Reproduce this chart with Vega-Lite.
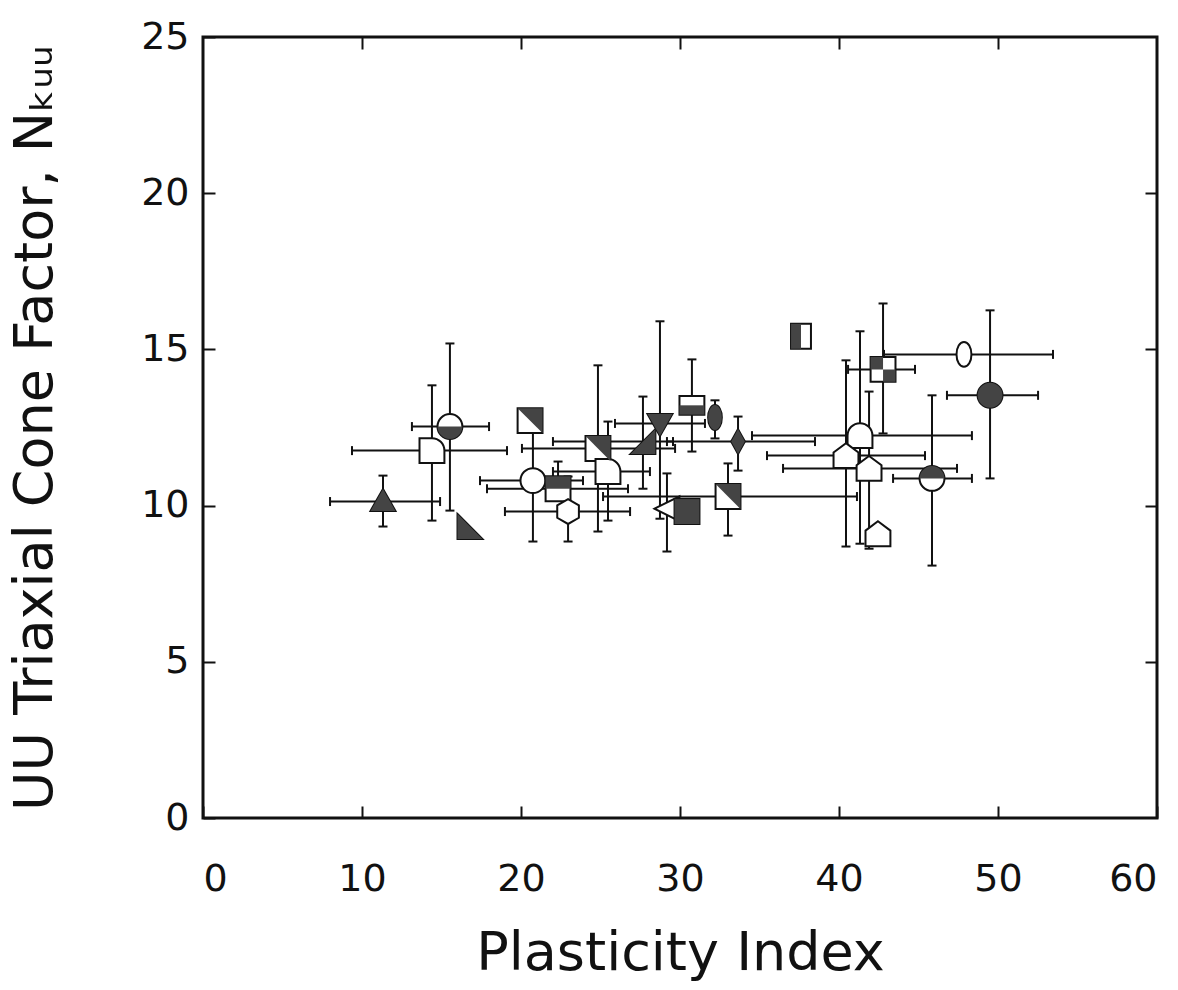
{
  "$schema": "https://vega.github.io/schema/vega-lite/v6.json",
  "width": 954,
  "height": 781,
  "autosize": {"type": "none"},
  "padding": {"left": 203, "top": 37, "right": 21, "bottom": 172},
  "background": "white",
  "config": {
    "view": {"stroke": "#111", "strokeWidth": 3},
    "axis": {
      "grid": false, "domain": false, "tickColor": "#111", "tickWidth": 2, "tickSize": 12, "offset": -12,
      "labelFont": "DejaVu Sans", "labelFontSize": 38, "labelColor": "#111",
      "titleFont": "DejaVu Sans", "titleFontSize": 54, "titleFontWeight": "normal", "titleColor": "#111"
    }
  },
  "data": {"values": [
    {"id": 1, "sym": "triUp", "x": 11.32, "y": 10.13, "xlo": 7.99, "xhi": 14.91, "ylo": 9.33, "yhi": 10.96},
    {"id": 2, "sym": "quarterD", "x": 14.40, "y": 11.76, "xlo": 9.37, "xhi": 19.12, "ylo": 9.52, "yhi": 13.85},
    {"id": 3, "sym": "circBot", "x": 15.53, "y": 12.53, "xlo": 13.14, "xhi": 17.99, "ylo": 9.84, "yhi": 15.19},
    {"id": 4, "sym": "rtriL", "x": 16.79, "y": 9.33, "xlo": null, "xhi": null, "ylo": null, "yhi": null},
    {"id": 5, "sym": "sqDiag", "x": 20.57, "y": 12.72, "xlo": null, "xhi": null, "ylo": null, "yhi": null},
    {"id": 6, "sym": "circ", "x": 20.75, "y": 10.80, "xlo": 17.42, "xhi": 23.90, "ylo": 8.85, "yhi": 12.37},
    {"id": 7, "sym": "sqTop", "x": 22.33, "y": 10.54, "xlo": 17.86, "xhi": 26.73, "ylo": 10.54, "yhi": 11.41},
    {"id": 8, "sym": "hex", "x": 22.96, "y": 9.81, "xlo": 18.99, "xhi": 26.86, "ylo": 8.85, "yhi": 10.93},
    {"id": 9, "sym": "sqDiag", "x": 24.84, "y": 11.83, "xlo": 20.06, "xhi": 29.69, "ylo": 9.17, "yhi": 14.49},
    {"id": 10, "sym": "quarterD", "x": 25.47, "y": 11.09, "xlo": 22.01, "xhi": 28.11, "ylo": 9.52, "yhi": 12.69},
    {"id": 11, "sym": "rtriR", "x": 27.67, "y": 12.05, "xlo": 22.01, "xhi": 29.56, "ylo": 10.54, "yhi": 13.49},
    {"id": 12, "sym": "triDown", "x": 28.74, "y": 12.63, "xlo": 25.91, "xhi": 31.57, "ylo": 9.58, "yhi": 15.90},
    {"id": 13, "sym": "rectBot", "x": 30.75, "y": 13.21, "xlo": null, "xhi": null, "ylo": 11.73, "yhi": 14.68},
    {"id": 14, "sym": "ellFill", "x": 32.20, "y": 12.82, "xlo": null, "xhi": null, "ylo": 12.15, "yhi": 13.37},
    {"id": 15, "sym": "diamond", "x": 33.65, "y": 12.05, "xlo": 29.18, "xhi": 38.49, "ylo": 11.12, "yhi": 12.85},
    {"id": 16, "sym": "triLeft", "x": 29.18, "y": 9.90, "xlo": null, "xhi": null, "ylo": 8.53, "yhi": 11.03},
    {"id": 17, "sym": "sqFill", "x": 30.44, "y": 9.81, "xlo": null, "xhi": null, "ylo": null, "yhi": null},
    {"id": 18, "sym": "sqDiag", "x": 33.02, "y": 10.29, "xlo": 25.16, "xhi": 41.13, "ylo": 9.04, "yhi": 11.35},
    {"id": 19, "sym": "sqHalfL", "x": 37.61, "y": 15.42, "xlo": null, "xhi": null, "ylo": null, "yhi": null},
    {"id": 20, "sym": "arch", "x": 41.32, "y": 12.24, "xlo": 34.53, "xhi": 48.36, "ylo": 8.78, "yhi": 15.58},
    {"id": 21, "sym": "checker", "x": 42.77, "y": 14.36, "xlo": 40.57, "xhi": 44.78, "ylo": 12.31, "yhi": 16.47},
    {"id": 22, "sym": "ellOpen", "x": 47.86, "y": 14.84, "xlo": 42.83, "xhi": 53.46, "ylo": null, "yhi": null},
    {"id": 23, "sym": "circFill", "x": 49.50, "y": 13.53, "xlo": 46.79, "xhi": 52.52, "ylo": 10.87, "yhi": 16.25},
    {"id": 24, "sym": "circTop", "x": 45.85, "y": 10.87, "xlo": 43.40, "xhi": 48.36, "ylo": 8.08, "yhi": 13.53},
    {"id": 25, "sym": "house", "x": 40.44, "y": 11.60, "xlo": 35.47, "xhi": 45.41, "ylo": 8.69, "yhi": 14.65},
    {"id": 26, "sym": "house", "x": 41.89, "y": 11.19, "xlo": 36.48, "xhi": 47.42, "ylo": 8.62, "yhi": 13.65},
    {"id": 27, "sym": "house", "x": 42.45, "y": 9.10, "xlo": null, "xhi": null, "ylo": null, "yhi": null}
  ]},
  "resolve": {"scale": {"shape": "independent"}, "axis": {"x": "independent", "y": "independent"}},
  "layer": [
    {
      "transform": [{"filter": "isValid(datum.xlo)"}],
      "mark": {"type": "rule", "strokeWidth": 2, "color": "#111"},
      "encoding": {
        "x": {"field": "xlo", "type": "quantitative", "scale": {"domain": [0, 60], "nice": false, "zero": false},
              "axis": {"orient": "bottom", "values": [0, 10, 20, 30, 40, 50, 60], "title": "Plasticity Index", "labelPadding": 42, "titlePadding": 28}},
        "x2": {"field": "xhi"},
        "y": {"field": "y", "type": "quantitative", "scale": {"domain": [0, 25], "nice": false, "zero": false},
              "axis": {"orient": "left", "values": [0, 5, 10, 15, 20, 25], "title": "UU Triaxial Cone Factor, Nₖᵤᵤ", "labelPadding": 14, "titlePadding": 78}}
      }
    },
    {
      "transform": [{"filter": "isValid(datum.ylo)"}],
      "mark": {"type": "rule", "strokeWidth": 2, "color": "#111"},
      "encoding": {
        "x": {"field": "x", "type": "quantitative", "axis": {"orient": "top", "values": [10, 20, 30, 40, 50], "labels": false, "title": null}},
        "y": {"field": "ylo", "type": "quantitative", "axis": {"orient": "right", "values": [5, 10, 15, 20], "labels": false, "title": null}},
        "y2": {"field": "yhi"}
      }
    },
    {
      "transform": [{"filter": "isValid(datum.xlo)"}],
      "mark": {"type": "point", "shape": "M0,-1L0,1", "size": 81, "strokeWidth": 2, "color": "#111", "filled": false, "opacity": 1},
      "encoding": {"x": {"field": "xlo", "type": "quantitative", "axis": null}, "y": {"field": "y", "type": "quantitative", "axis": null}}
    },
    {
      "transform": [{"filter": "isValid(datum.xhi)"}],
      "mark": {"type": "point", "shape": "M0,-1L0,1", "size": 81, "strokeWidth": 2, "color": "#111", "filled": false, "opacity": 1},
      "encoding": {"x": {"field": "xhi", "type": "quantitative", "axis": null}, "y": {"field": "y", "type": "quantitative", "axis": null}}
    },
    {
      "transform": [{"filter": "isValid(datum.ylo)"}],
      "mark": {"type": "point", "shape": "M-1,0L1,0", "size": 81, "strokeWidth": 2, "color": "#111", "filled": false, "opacity": 1},
      "encoding": {"x": {"field": "x", "type": "quantitative", "axis": null}, "y": {"field": "ylo", "type": "quantitative", "axis": null}}
    },
    {
      "transform": [{"filter": "isValid(datum.yhi)"}],
      "mark": {"type": "point", "shape": "M-1,0L1,0", "size": 81, "strokeWidth": 2, "color": "#111", "filled": false, "opacity": 1},
      "encoding": {"x": {"field": "x", "type": "quantitative", "axis": null}, "y": {"field": "yhi", "type": "quantitative", "axis": null}}
    },
    {
      "mark": {"type": "point", "filled": true, "fill": "white", "stroke": "#111", "strokeWidth": 2, "size": 620, "opacity": 1},
      "encoding": {
        "x": {"field": "x", "type": "quantitative", "axis": null},
        "y": {"field": "y", "type": "quantitative", "axis": null},
        "shape": {"field": "sym", "type": "nominal", "legend": null, "scale": {
          "domain": ["triUp", "quarterD", "circBot", "rtriL", "sqDiag", "circ", "sqTop", "hex", "rtriR", "triDown", "rectBot", "ellFill", "diamond", "triLeft", "sqFill", "sqHalfL", "arch", "checker", "ellOpen", "circFill", "circTop", "house"],
          "range": [
            "M0,-1L1,0.75L-1,0.75Z",
            "M-1,-1L0,-1A1,1 0 0,1 1,0L1,1L-1,1Z",
            "M-1,0A1,1 0 1,1 1,0A1,1 0 1,1 -1,0Z",
            "M-1,-1L1,1L-1,1Z",
            "M-1,-1L1,-1L1,1L-1,1Z",
            "M-1,0A1,1 0 1,1 1,0A1,1 0 1,1 -1,0Z",
            "M-1,-1L1,-1L1,1L-1,1Z",
            "M0,-1L0.87,-0.5L0.87,0.5L0,1L-0.87,0.5L-0.87,-0.5Z",
            "M1,-1L1,1L-1,1Z",
            "M-1,-0.75L1,-0.75L0,1Z",
            "M-1,-0.75L1,-0.75L1,0.75L-1,0.75Z",
            "M0,-1A0.55,1 0 1,1 0,1A0.55,1 0 1,1 0,-1Z",
            "M0,-1L0.55,0L0,1L-0.55,0Z",
            "M-1,0L1,-1L1,1Z",
            "M-1,-1L1,-1L1,1L-1,1Z",
            "M-0.8,-1L0.8,-1L0.8,1L-0.8,1Z",
            "M-1,1L-1,0A1,1 0 0,1 1,0L1,1Z",
            "M-1,-1L1,-1L1,1L-1,1Z",
            "M0,-1A0.6,1 0 1,1 0,1A0.6,1 0 1,1 0,-1Z",
            "M-1,0A1,1 0 1,1 1,0A1,1 0 1,1 -1,0Z",
            "M-1,0A1,1 0 1,1 1,0A1,1 0 1,1 -1,0Z",
            "M0,-1L1,-0.25L1,1L-1,1L-1,-0.25Z"
          ]}}
      }
    },
    {
      "transform": [{"filter": {"field": "sym", "oneOf": ["triUp", "circBot", "rtriL", "sqDiag", "sqTop", "rtriR", "triDown", "rectBot", "ellFill", "diamond", "sqFill", "sqHalfL", "checker", "circFill", "circTop"]}}],
      "mark": {"type": "point", "filled": true, "fill": "#444", "strokeWidth": 0, "size": 620, "opacity": 1},
      "encoding": {
        "x": {"field": "x", "type": "quantitative", "axis": null},
        "y": {"field": "y", "type": "quantitative", "axis": null},
        "shape": {"field": "sym", "type": "nominal", "legend": null, "scale": {
          "domain": ["triUp", "circBot", "rtriL", "sqDiag", "sqTop", "rtriR", "triDown", "rectBot", "ellFill", "diamond", "sqFill", "sqHalfL", "checker", "circFill", "circTop"],
          "range": [
            "M0,-1L1,0.75L-1,0.75Z",
            "M-1,0A1,1 0 0,0 1,0Z",
            "M-1,-1L1,1L-1,1Z",
            "M-1,-1L1,-1L1,1Z",
            "M-1,-1L1,-1L1,0L-1,0Z",
            "M1,-1L1,1L-1,1Z",
            "M-1,-0.75L1,-0.75L0,1Z",
            "M-1,0L1,0L1,0.75L-1,0.75Z",
            "M0,-1A0.55,1 0 1,1 0,1A0.55,1 0 1,1 0,-1Z",
            "M0,-1L0.55,0L0,1L-0.55,0Z",
            "M-1,-1L1,-1L1,1L-1,1Z",
            "M-0.8,-1L0,-1L0,1L-0.8,1Z",
            "M-1,-1L0,-1L0,0L-1,0ZM0,0L1,0L1,1L0,1Z",
            "M-1,0A1,1 0 1,1 1,0A1,1 0 1,1 -1,0Z",
            "M-1,0A1,1 0 0,1 1,0Z"
          ]}}
      }
    }
  ]
}
